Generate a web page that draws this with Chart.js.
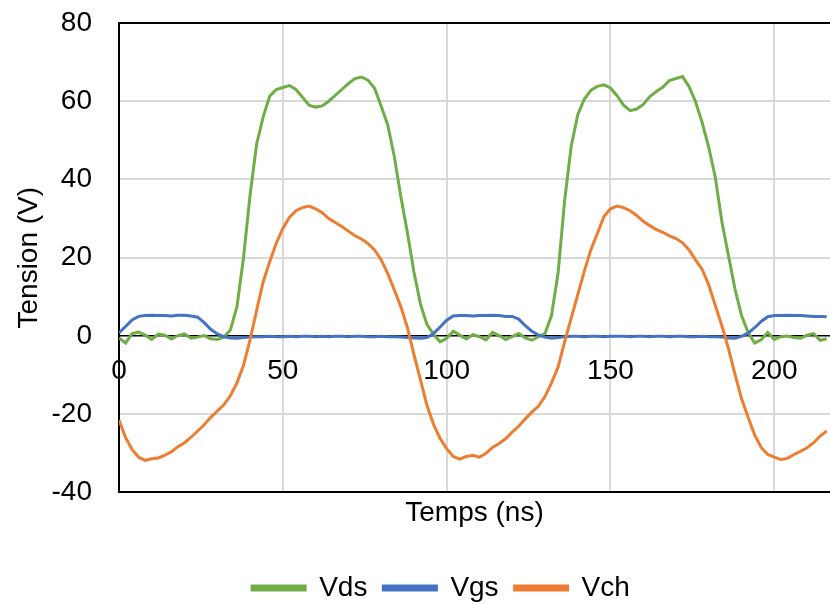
<!DOCTYPE html>
<html>
<head>
<meta charset="utf-8">
<script src="https://cdn.jsdelivr.net/npm/chart.js@4/dist/chart.umd.min.js"></script>
<style>
  body { margin: 0; background: #fff; }
  #wrap { width: 830px; height: 605px; }
</style>
</head>
<body>
<div id="wrap"><canvas id="waveChart" width="830" height="605"></canvas></div>
<script>
// time axis (ns), one sample every 2 ns
const times = [
  0, 2, 4, 6, 8, 10, 12, 14, 16, 18, 20, 22, 24, 26, 28, 30, 32, 34, 36, 38,
  40, 42, 44, 46, 48, 50, 52, 54, 56, 58, 60, 62, 64, 66, 68, 70, 72, 74, 76, 78,
  80, 82, 84, 86, 88, 90, 92, 94, 96, 98, 100, 102, 104, 106, 108, 110, 112, 114, 116, 118,
  120, 122, 124, 126, 128, 130, 132, 134, 136, 138, 140, 142, 144, 146, 148, 150, 152, 154, 156, 158,
  160, 162, 164, 166, 168, 170, 172, 174, 176, 178, 180, 182, 184, 186, 188, 190, 192, 194, 196, 198,
  200, 202, 204, 206, 208, 210, 212, 214, 216
];

const vds = [
  -0.5, -1.8, 0.6, 1.0, 0.2, -0.9, 0.5, 0.2, -0.8, 0.1, 0.5, -0.6, -0.3, 0.1, -0.7, -0.9, -0.3, 1.5, 7.5, 20,
  36, 49, 56, 61.3, 63, 63.5, 64, 63, 61, 59, 58.5, 58.8, 60, 61.5, 63, 64.5, 65.8, 66.2, 65.4, 63.3,
  58.8, 54, 46, 35.7, 26.5, 16.4, 8.2, 2.9, 0.4, -1.5, -0.6, 1.2, 0.2, -0.8, 0.3, -0.2, -1.0, 0.9, 0.1, -0.9,
  -0.2, 0.6, -0.5, -1.1, -0.2, 0.6, 5.2, 16, 34.5, 48.4, 56.5, 60.5, 62.8, 63.8, 64.2, 63.4, 61.4, 59, 57.6, 58,
  59.2, 61.2, 62.5, 63.6, 65.3, 65.8, 66.3, 63.7, 59.8, 54.5, 48.2, 40.5, 29.2, 20.6, 12, 5.2, 0.9, -1.8, -1.0, 0.9,
  -0.9, -0.2, 0.0, -0.4, -0.6, 0.2, 0.6, -1.1, -0.7
];

const vgs = [
  0.8, 2.4, 4.1, 5.0, 5.2, 5.3, 5.2, 5.2, 5.1, 5.3, 5.3, 5.1, 4.8, 3.4, 1.7, 0.5, -0.2, -0.5, -0.6, -0.4,
  -0.3, -0.2, -0.2, -0.1, -0.2, -0.2, -0.1, -0.2, -0.1, -0.1, -0.2, -0.1, -0.2, -0.1, -0.1, -0.2, -0.1, -0.1, -0.2, -0.2,
  -0.1, -0.2, -0.2, -0.3, -0.4, -0.5, -0.6, -0.4, 0.6, 2.3, 4.0, 5.1, 5.2, 5.2, 5.1, 5.2, 5.2, 5.3, 5.2, 5.0,
  5.0, 4.3, 2.6, 1.2, 0.2, -0.3, -0.6, -0.4, -0.2, -0.1, -0.1, -0.2, -0.1, -0.1, -0.2, -0.1, -0.1, -0.1, -0.2, -0.1,
  -0.1, -0.2, -0.1, -0.1, -0.2, -0.1, -0.1, -0.2, -0.2, -0.1, -0.2, -0.2, -0.3, -0.5, -0.6, -0.1, 0.7, 2.1, 3.7, 4.9,
  5.2, 5.2, 5.3, 5.2, 5.2, 5.1, 5.0, 5.0, 4.9
];

const vch = [
  -21.5, -26, -29, -31, -31.8, -31.4, -31.2, -30.5, -29.6, -28.3, -27.3, -25.9, -24.3, -22.7, -20.8, -19.2, -17.6, -15.3, -12, -7.5,
  -1, 6.5, 13.8, 19, 23.7, 27.5, 30.3, 32, 32.8, 33.2, 32.5, 31.5, 30, 29, 28, 26.8, 25.6, 24.8, 23.6, 22,
  19.5, 16, 11.8, 7.5, 2.2, -4.7, -11.2, -17.8, -22.6, -26.2, -28.8, -30.8, -31.5, -30.8, -30.5, -31, -30, -28.5, -27.5, -26.3,
  -24.6, -23.1, -21.2, -19.5, -18, -15.5, -12, -8, -1.5, 4.5, 10.5, 16.5, 22, 26.2, 30.5, 32.5, 33.2, 32.8, 32, 30.8,
  29.3, 28.2, 27.2, 26.5, 25.6, 24.9, 23.8, 22, 19.4, 17, 13, 7.8, 2.6, -3.2, -9.8, -16, -20.8, -25.3, -28.5, -30.3,
  -31, -31.6, -31.3, -30.3, -29.5, -28.6, -27.3, -25.6, -24.3
];

const seriesNames = ['Vds', 'Vgs', 'Vch'];
const seriesColors = ['#70AD47', '#4472C4', '#ED7D31'];

const FONT = { family: 'Liberation Sans, Arial, sans-serif', size: 28 };

function toPoints(values) {
  return values.map((v, i) => ({ x: times[i], y: v }));
}

// nudge the legend to where excel had it
const legendShift = {
  id: 'legendShift',
  afterLayout(chart) {
    chart.legend.top += 7;
    chart.legend.bottom += 7;
    chart.legend.left += 26;
    chart.legend.right += 26;
  }
};

const ctx = document.getElementById('waveChart').getContext('2d');
new Chart(ctx, {
  type: 'line',
  data: {
    datasets: [vds, vgs, vch].map((vals, i) => ({
      label: seriesNames[i],
      data: toPoints(vals),
      borderColor: seriesColors[i],
      backgroundColor: seriesColors[i],
      borderWidth: 3,
      pointRadius: 0,
      tension: 0,
      order: 3 - i
    }))
  },
  options: {
    responsive: false,
    animation: false,
    layout: { padding: { top: 23, left: 0, right: 0, bottom: 0 } },
    plugins: {
      tooltip: { enabled: false },
      legend: {
        position: 'bottom',
        labels: {
          font: FONT,
          color: '#000',
          boxWidth: 53,
          boxHeight: 4,
          padding: 16,
          sort: (a, b) => a.datasetIndex - b.datasetIndex
        }
      }
    },
    scales: {
      x: {
        type: 'linear',
        min: 0,
        max: 217,
        ticks: { display: false, stepSize: 50, includeBounds: false },
        grid: {
          drawTicks: false,
          lineWidth: 2,
          color: c => (c.tick && c.tick.value === 0 ? '#000' : '#d9d9d9')
        },
        border: { display: true, color: '#000', width: 2 },
        title: {
          display: true,
          text: 'Temps (ns)',
          font: FONT,
          color: '#000',
          padding: { top: 4, bottom: 21 }
        }
      },
      xLabels: {
        type: 'linear',
        axis: 'x',
        position: { y: 0 },
        min: 0,
        max: 217,
        grid: { display: false, drawTicks: false },
        border: { display: false },
        ticks: { stepSize: 50, includeBounds: false, font: FONT, color: '#000', padding: 19, maxRotation: 0 }
      },
      y: {
        min: -40,
        max: 80,
        ticks: { stepSize: 20, font: FONT, color: '#000', padding: 27 },
        grid: {
          drawTicks: false,
          lineWidth: c => (c.tick && c.tick.value === 0 ? 1.5 : 2),
          color: c => {
            const v = c.tick ? c.tick.value : null;
            return (v === 0 || v === 80 || v === -40) ? '#000' : '#d9d9d9';
          }
        },
        border: { display: true, color: '#000', width: 2 },
        title: {
          display: true,
          text: 'Tension (V)',
          font: FONT,
          color: '#000',
          padding: { top: 12, bottom: 0 }
        },
        afterFit(scale) {
          scale.width = 119;
          // label overflow would otherwise push the plot area down
          scale.paddingTop = 0;
          scale.paddingBottom = 0;
        }
      }
    }
  },
  plugins: [legendShift]
});
</script>
</body>
</html>
